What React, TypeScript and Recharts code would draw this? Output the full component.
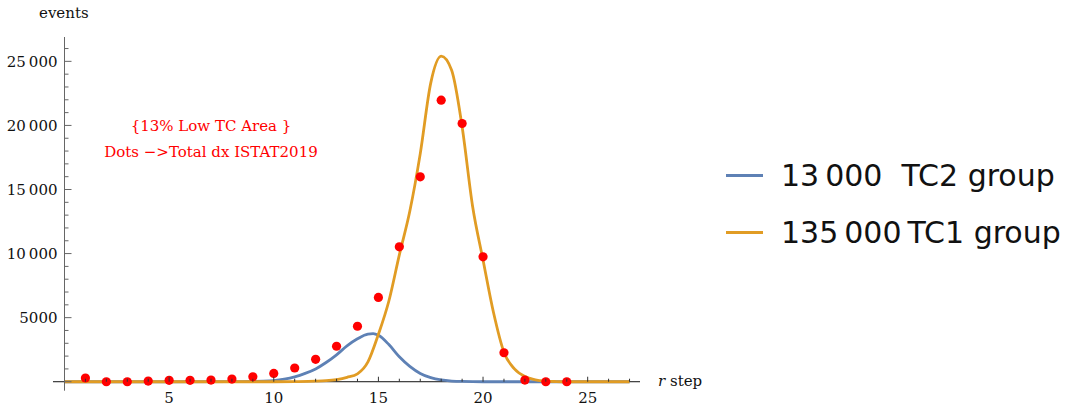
import React from 'react';
import {
    ComposedChart,
    Line,
    Scatter,
    XAxis,
    YAxis,
    ReferenceLine,
    ReferenceDot,
} from 'recharts';

// red dots: total events per step (ISTAT 2019)
const steps = [1, 2, 3, 4, 5, 6, 7, 8, 9, 10, 11, 12, 13, 14, 15, 16, 17, 18, 19, 20, 21, 22, 23, 24];
const totalEvents = [290, 0, 0, 50, 110, 110, 130, 210, 390, 650, 1070, 1750, 2770, 4330, 6580, 10530, 15990, 21970, 20150, 9750, 2260, 130, 0, 0];

// blue curve (TC2 group)
const tc2Steps = [0, 5, 8, 9, 9.5, 10, 10.5, 11, 11.5, 12, 12.5, 13, 13.5, 14, 14.5, 14.75, 15, 15.5, 16, 16.5, 17, 17.5, 18, 18.5, 19, 20, 27];
const tc2Events = [0, 0, 5, 20, 40, 90, 200, 380, 650, 1000, 1500, 2100, 2800, 3350, 3720, 3750, 3620, 2900, 1950, 1200, 650, 320, 140, 55, 20, 0, 0];

// orange curve (TC1 group)
const tc1Steps = [0, 10, 11, 12, 12.5, 13, 13.5, 14, 14.5, 15, 15.5, 16, 16.5, 17, 17.5, 18, 18.5, 19, 19.5, 20, 20.5, 21, 21.5, 22, 22.5, 23, 23.5, 24, 27];
const tc1Events = [0, 0, 10, 40, 80, 170, 340, 620, 1550, 3700, 6300, 9900, 13300, 17800, 23300, 25400, 24300, 19900, 13700, 9500, 5400, 2300, 1000, 400, 150, 50, 15, 0, 0];

const seriesNames = ['13\u2009000\u00a0\u00a0TC2 group', '135\u2009000\u2009TC1 group'];
const seriesColors = ['#5E81B5', '#E19C24'];

const xTicks = [1, 2, 3, 4, 5, 6, 7, 8, 9, 10, 11, 12, 13, 14, 15, 16, 17, 18, 19, 20, 21, 22, 23, 24, 25, 26, 27];
const yTicks = [0, 1000, 2000, 3000, 4000, 5000, 6000, 7000, 8000, 9000, 10000, 11000, 12000, 13000, 14000, 15000, 16000, 17000, 18000, 19000, 20000, 21000, 22000, 23000, 24000, 25000, 26000];

const noteLines = ['{13% Low TC Area }', 'Dots \u2212>Total dx ISTAT2019'];

const W = 1068;
const H = 406;
const TOP = 37;
const BOTTOM = 15.3;
const LEFT = 64.5;
const RIGHT = 428;
const Y_MIN = -700;
const Y_MAX = 26900;
const ZERO_Y = TOP + ((H - TOP - BOTTOM) * Y_MAX) / (Y_MAX - Y_MIN);

const serif = '"DejaVu Serif", serif';
const sans = '"DejaVu Sans", sans-serif';

const zip = (xs: number[], ys: number[]) => xs.map((x, i) => ({ x, y: ys[i] }));
const dotsData = zip(steps, totalEvents);
const tc2Data = zip(tc2Steps, tc2Events);
const tc1Data = zip(tc1Steps, tc1Events);

const fmt = (v: number) => (v >= 10000 ? v.toLocaleString('en-US').replace(',', '\u2009') : String(v));

const XTick = (props: any) => {
    const { x, payload } = props;
    const v = payload.value;
    const major = v % 5 === 0;
    return (
        <g>
            <line x1={x} x2={x} y1={ZERO_Y} y2={ZERO_Y - (major ? 5 : 3)} stroke="#333" strokeWidth={1} />
            {major && (
                <text x={x} y={ZERO_Y + 21} textAnchor="middle" fontFamily={serif} fontSize={15} fill="#111">
                    {v}
                </text>
            )}
        </g>
    );
};

const YTick = (props: any) => {
    const { y, payload } = props;
    const v = payload.value;
    const major = v % 5000 === 0;
    return (
        <g>
            <line x1={LEFT} x2={LEFT + (major ? 7 : 4)} y1={y} y2={y} stroke="#666" strokeWidth={1} />
            {major && v !== 0 && (
                <text x={LEFT - 7} y={y} dy="0.36em" textAnchor="end" fontFamily={serif} fontSize={15} fill="#111">
                    {fmt(v)}
                </text>
            )}
        </g>
    );
};

const NoteLabel = (props: any) => {
    const { viewBox } = props;
    const cx = viewBox.cx ?? viewBox.x;
    const cy = viewBox.cy ?? viewBox.y;
    return (
        <g>
            {noteLines.map((t, i) => (
                <text key={i} x={cx} y={cy + (i === 0 ? -8 : 18)} textAnchor="middle" fontFamily={serif} fontSize={15} fill="#FF0000">
                    {t}
                </text>
            ))}
        </g>
    );
};

const RedDot = (props: any) => <circle cx={props.cx} cy={props.cy} r={4.6} fill="#FF0000" />;

export default function App() {
    return (
        <div style={{ position: 'absolute', left: 0, top: 0, width: W, height: H, background: '#fff' }}>
            <ComposedChart width={W} height={H} margin={{ top: TOP, right: RIGHT, bottom: BOTTOM - 1, left: LEFT - 1 }}>
                <XAxis
                    type="number"
                    dataKey="x"
                    domain={[0, 27.5]}
                    ticks={xTicks}
                    height={1}
                    axisLine={false}
                    tickLine={false}
                    tick={XTick}
                    interval={0}
                    allowDataOverflow
                />
                <YAxis
                    type="number"
                    dataKey="y"
                    domain={[Y_MIN, Y_MAX]}
                    ticks={yTicks}
                    width={1}
                    axisLine={{ stroke: '#666', strokeWidth: 1 }}
                    tickLine={false}
                    tick={YTick}
                    interval={0}
                    allowDataOverflow
                />
                <ReferenceLine
                    segment={[{ x: -0.55, y: 0 }, { x: 27.5, y: 0 }]}
                    stroke="#111"
                    strokeWidth={1}
                    ifOverflow="visible"
                />
                <Line
                    data={tc2Data}
                    dataKey="y"
                    name={seriesNames[0]}
                    type="monotone"
                    stroke={seriesColors[0]}
                    strokeWidth={2.8}
                    dot={false}
                    isAnimationActive={false}
                />
                <Line
                    data={tc1Data}
                    dataKey="y"
                    name={seriesNames[1]}
                    type="monotone"
                    stroke={seriesColors[1]}
                    strokeWidth={2.8}
                    dot={false}
                    isAnimationActive={false}
                />
                <Scatter data={dotsData} dataKey="y" shape={RedDot} isAnimationActive={false} />
                <ReferenceDot x={7} y={18930} r={0} ifOverflow="visible" label={NoteLabel} />
            </ComposedChart>
            <div style={{ position: 'absolute', left: 39, top: 4, fontFamily: serif, fontSize: 15, color: '#111' }}>events</div>
            <div style={{ position: 'absolute', left: 658, top: 372, fontFamily: serif, fontSize: 15, color: '#111' }}>
                <i>r</i> step
            </div>
            <div style={{ position: 'absolute', left: 726, top: 147 }}>
                {seriesNames.map((n, i) => (
                    <div key={i} style={{ display: 'flex', alignItems: 'center', height: 57 }}>
                        <div style={{ width: 37, height: 3, background: seriesColors[i], marginRight: 18 }} />
                        <span style={{ fontFamily: sans, fontSize: 30, color: '#111', whiteSpace: 'pre', lineHeight: '36px' }}>{n}</span>
                    </div>
                ))}
            </div>
        </div>
    );
}
